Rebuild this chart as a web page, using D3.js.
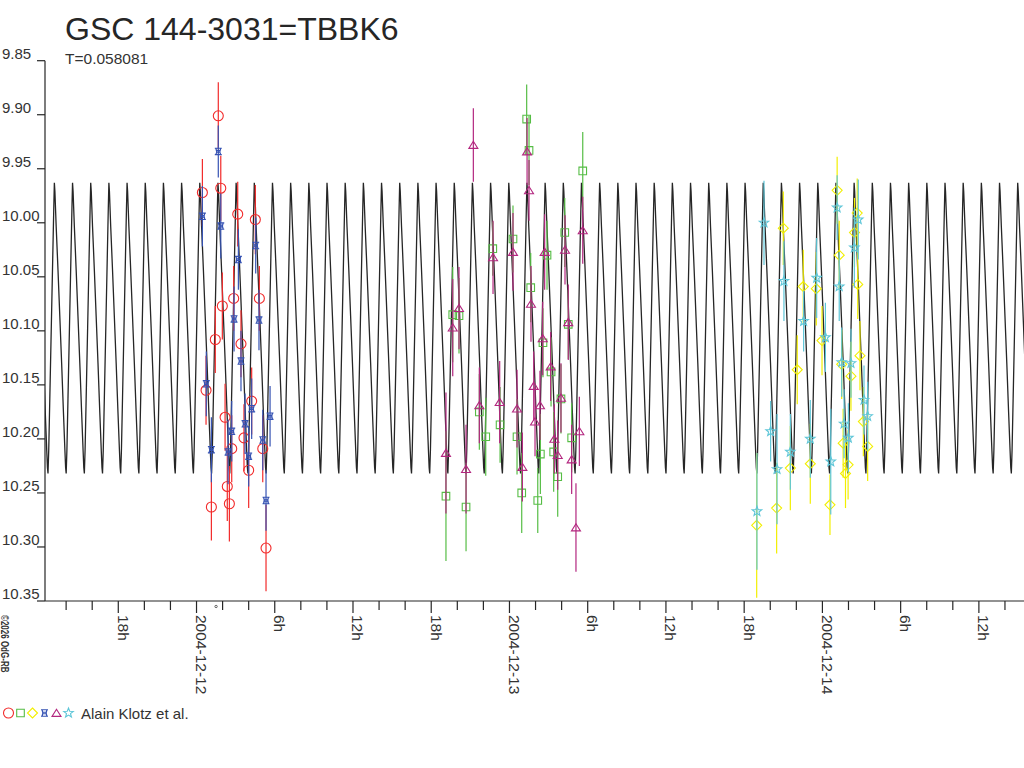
<!DOCTYPE html>
<html>
<head>
<meta charset="utf-8">
<script src="https://cdn.jsdelivr.net/npm/d3@7"></script>
<style>
  body { margin: 0; background: #fff; }
  svg { display: block; font-family: "Liberation Sans", Arial, sans-serif; }
</style>
</head>
<body>
<svg id="chart" width="1024" height="768"></svg>
<script>
// light curve of GSC 144-3031, times are hours after 2004-12-12 0h UT

const title = "GSC 144-3031=TBBK6";
const periodLabel = "T=0.058081";
const observer = "Alain Klotz et al.";
const copyright = "\u00a92026 OdG-RB";

// model: period in days, epoch of a minimum in hours, faint / bright magnitude
const periodDays = 0.058081;
const epochHours = -11.39;
const magFaint = 10.232;
const magBright = 9.963;

// one cycle of the model (0 = minimum light, 1 = maximum)
const cyclePhase = [0, 0.04, 0.10, 0.18, 0.26, 0.32, 0.35, 0.38, 0.45, 0.55, 0.65, 0.75, 0.85, 0.93, 0.97, 1];
const cycleLevel = [0, 0.08, 0.26, 0.50, 0.74, 0.92, 1, 0.97, 0.85, 0.70, 0.54, 0.38, 0.21, 0.08, 0.02, 0];

// y axis ticks
const magTicks = [9.85, 9.90, 9.95, 10.00, 10.05, 10.10, 10.15, 10.20, 10.25, 10.30, 10.35];

// x axis ticks (hours) and their labels
const labelHours = [-6, 0, 6, 12, 18, 24, 30, 36, 42, 48, 54, 60];
const labelTexts = ["18h", "2004-12-12", "6h", "12h", "18h", "2004-12-13", "6h", "12h", "18h", "2004-12-14", "6h", "12h"];
const minorHours = d3.range(-10, 63, 2);
const markHours = 1.5;

// observations: [hours, magnitude, error]
const redCircles = [
  [1.67, 9.901, .031], [0.45, 9.972, .031], [1.86, 9.968, .030], [3.16, 9.992, .030], [4.51, 9.997, .032],
  [1.98, 10.077, .031], [2.85, 10.070, .030], [4.82, 10.070, .030], [1.44, 10.108, .031], [3.41, 10.112, .031],
  [0.73, 10.155, .032], [4.23, 10.165, .031], [2.19, 10.180, .031], [3.64, 10.199, .031], [5.08, 10.209, .031],
  [2.70, 10.209, .031], [4.00, 10.229, .035], [2.36, 10.244, .032], [1.14, 10.263, .031], [2.52, 10.260, .035],
  [5.33, 10.301, .040]
];
const greenSquares = [
  [19.65, 10.085, .044], [20.13, 10.086, .035], [22.72, 10.024, .025], [24.27, 10.015, .031], [21.69, 10.175, .035],
  [22.18, 10.198, .036], [23.28, 10.187, .035], [24.58, 10.198, .035], [19.13, 10.253, .060], [20.67, 10.263, .041],
  [24.94, 10.250, .037], [25.32, 9.904, .032], [25.50, 9.933, .032], [29.62, 9.952, .036], [26.88, 10.030, .032],
  [28.24, 10.009, .032], [25.63, 10.060, .032], [28.51, 10.094, .032], [26.57, 10.111, .032], [27.19, 10.138, .032],
  [27.95, 10.163, .032], [28.77, 10.199, .032], [27.39, 10.212, .037], [26.37, 10.214, .037], [27.70, 10.235, .037],
  [26.17, 10.257, .030]
];
const yellowDiamonds = [
  [45.00, 10.005, .034], [46.53, 10.059, .034], [47.53, 10.061, .034], [46.07, 10.136, .032], [45.54, 10.227, .039],
  [47.07, 10.223, .037], [44.49, 10.264, .042], [42.96, 10.280, .067], [47.97, 10.109, .032], [49.13, 9.970, .031],
  [50.67, 9.991, .032], [50.46, 10.009, .032], [49.29, 10.030, .032], [50.71, 10.057, .032], [49.48, 10.131, .032],
  [50.88, 10.123, .032], [50.19, 10.142, .032], [51.14, 10.184, .032], [51.47, 10.207, .032], [49.59, 10.204, .032],
  [49.97, 10.224, .032], [49.77, 10.232, .032], [48.58, 10.261, .028]
];
const blueCrosses = [
  [1.67, 9.934, .024], [0.45, 9.994, .028], [1.86, 10.003, .030], [3.21, 10.034, .028], [4.54, 10.021, .026],
  [2.88, 10.089, .030], [4.79, 10.090, .028], [3.41, 10.128, .028], [0.75, 10.149, .030], [4.23, 10.172, .028],
  [5.64, 10.179, .028], [3.72, 10.186, .028], [2.70, 10.193, .028], [5.08, 10.201, .028], [1.14, 10.210, .030],
  [2.42, 10.212, .030], [4.00, 10.216, .028], [5.33, 10.257, .028]
];
const purpleTriangles = [
  [21.23, 9.928, .034], [20.13, 10.079, .038], [19.65, 10.097, .045], [22.74, 10.032, .034], [24.27, 10.027, .036],
  [21.69, 10.169, .035], [23.25, 10.166, .038], [24.58, 10.172, .036], [19.13, 10.213, .056], [20.67, 10.228, .041],
  [25.35, 9.934, .031], [25.50, 9.970, .028], [26.70, 10.027, .035], [28.26, 10.025, .032], [29.62, 10.007, .031],
  [25.65, 10.075, .035], [28.51, 10.092, .035], [26.55, 10.107, .034], [27.16, 10.133, .032], [25.86, 10.151, .032],
  [26.34, 10.169, .032], [27.95, 10.162, .032], [25.96, 10.184, .032], [29.36, 10.193, .032], [27.44, 10.200, .032],
  [27.70, 10.215, .032], [28.77, 10.219, .032], [24.99, 10.226, .032], [29.10, 10.282, .041]
];
const cyanStars = [
  [43.52, 10.000, .039], [45.05, 10.054, .037], [46.56, 10.091, .028], [47.56, 10.051, .037], [44.03, 10.193, .028],
  [44.52, 10.228, .051], [45.54, 10.212, .035], [47.07, 10.200, .036], [42.98, 10.267, .054], [49.13, 9.986, .030],
  [49.29, 10.059, .032], [48.23, 10.106, .032], [50.75, 9.997, .037], [50.45, 10.023, .037], [49.48, 10.129, .032],
  [50.19, 10.130, .032], [51.19, 10.164, .032], [51.47, 10.179, .032], [49.66, 10.186, .032], [49.99, 10.199, .032],
  [48.64, 10.221, .049]
];

// symbol outlines, centred on 0,0
const starPath = d3.range(10).map(i => {
  const r = i % 2 ? 2.1 : 5;
  const a = -Math.PI / 2 + i * Math.PI / 5;
  return (i ? "L" : "M") + (r * Math.cos(a)).toFixed(2) + "," + (r * Math.sin(a)).toFixed(2);
}).join("") + "Z";

const symbols = {
  circle: "M5,0A5,5 0 1,1 -5,0A5,5 0 1,1 5,0Z",
  square: "M-3.8,-3.8H3.8V3.8H-3.8Z",
  diamond: "M0,-5L5,0L0,5L-5,0Z",
  cross: "M-3.5,-3.2H3.5M-3.5,3.2H3.5M-2.6,-3.5Q-0.8,0 -2.6,3.5M2.6,-3.5Q0.8,0 2.6,3.5M-1.5,-0.8H1.5M-1.5,0.8H1.5",
  triangle: "M0,-3.8L4.5,3.4H-4.5Z",
  star: starPath
};

const series = [
  { data: redCircles, symbol: "circle", color: "#f22a2a" },
  { data: greenSquares, symbol: "square", color: "#56bd45" },
  { data: yellowDiamonds, symbol: "diamond", color: "#f2ef00" },
  { data: blueCrosses, symbol: "cross", color: "#3653b3" },
  { data: purpleTriangles, symbol: "triangle", color: "#b3267f" },
  { data: cyanStars, symbol: "star", color: "#5ec6d8" }
];

const ink = "#262626";
const svg = d3.select("#chart");

const x = d3.scaleLinear().domain([-11.62, 63.46]).range([45, 1024]);
const y = d3.scaleLinear().domain([9.85, 10.35]).range([60.7, 601]);

// title texts
svg.append("text").attr("x", 65).attr("y", 40).attr("font-size", 32).attr("fill", ink).text(title);
svg.append("text").attr("x", 65).attr("y", 64).attr("font-size", 15.5).attr("fill", "#333").text(periodLabel);

// axes
svg.append("line").attr("x1", 45).attr("x2", 45).attr("y1", y(9.85)).attr("y2", y(10.35))
  .attr("stroke", ink).attr("stroke-width", 1.2);
svg.append("line").attr("x1", 45).attr("x2", 1024).attr("y1", y(10.35)).attr("y2", y(10.35))
  .attr("stroke", ink).attr("stroke-width", 1.2);

const yTicks = svg.append("g").selectAll("g").data(magTicks).join("g")
  .attr("transform", d => `translate(0,${y(d)})`);
yTicks.append("line").attr("x1", 37).attr("x2", 45).attr("stroke", ink).attr("stroke-width", 1.2);
yTicks.append("text").attr("x", 2).attr("y", -2).attr("font-size", 15).attr("fill", "#333")
  .text(d => d3.format(".2f")(d));

svg.append("g").selectAll("line").data(minorHours).join("line")
  .attr("x1", d => x(d)).attr("x2", d => x(d))
  .attr("y1", y(10.35)).attr("y2", d => labelHours.includes(d) ? y(10.35) + 12 : y(10.35) + 9)
  .attr("stroke", ink).attr("stroke-width", 1.2);

svg.append("g").selectAll("text").data(labelHours).join("text")
  .attr("transform", d => `translate(${x(d) - 0.5},615) rotate(90)`)
  .attr("font-size", 15.5).attr("fill", "#333")
  .text((d, i) => labelTexts[i]);

svg.append("circle").attr("cx", x(markHours)).attr("cy", 606.5).attr("r", 1.2)
  .attr("fill", "none").attr("stroke", "#444").attr("stroke-width", 0.8);

svg.append("text").attr("transform", "translate(1,615) rotate(90) scale(1,1.35)")
  .attr("font-size", 8).attr("font-weight", "bold").attr("fill", "#333").text(copyright);

// model curve, the cycle template repeated every period
svg.append("clipPath").attr("id", "plot")
  .append("rect").attr("x", 45).attr("y", 0).attr("width", 979).attr("height", 601);

const periodHours = periodDays * 24;
const modelPoints = [];
for (let k = -1; k < 56; k++) {
  cyclePhase.forEach((p, i) => {
    modelPoints.push([epochHours + (k + p) * periodHours, magFaint - cycleLevel[i] * (magFaint - magBright)]);
  });
}

svg.append("path")
  .attr("clip-path", "url(#plot)")
  .attr("d", d3.line().x(d => x(d[0])).y(d => y(d[1]))(modelPoints))
  .attr("fill", "none").attr("stroke", ink).attr("stroke-width", 1.3);

// observations with error bars
series.forEach(s => {
  const g = svg.append("g");
  g.selectAll("line").data(s.data).join("line")
    .attr("x1", d => x(d[0])).attr("x2", d => x(d[0]))
    .attr("y1", d => y(d[1] - d[2])).attr("y2", d => y(d[1] + d[2]))
    .attr("stroke", s.color).attr("stroke-width", 1.2);
  g.selectAll("path").data(s.data).join("path")
    .attr("transform", d => `translate(${x(d[0])},${y(d[1])})`)
    .attr("d", symbols[s.symbol])
    .attr("fill", "none").attr("stroke", s.color).attr("stroke-width", 1.1);
});

// legend
const legend = svg.append("g").attr("transform", "translate(0,713)");
legend.selectAll("path").data(series).join("path")
  .attr("transform", (d, i) => `translate(${8.5 + i * 12},0)`)
  .attr("d", d => symbols[d.symbol])
  .attr("fill", "none").attr("stroke", d => d.color).attr("stroke-width", 1.1);
legend.append("text").attr("x", 81).attr("y", 5.5).attr("font-size", 15).attr("fill", "#333").text(observer);
</script>
</body>
</html>
